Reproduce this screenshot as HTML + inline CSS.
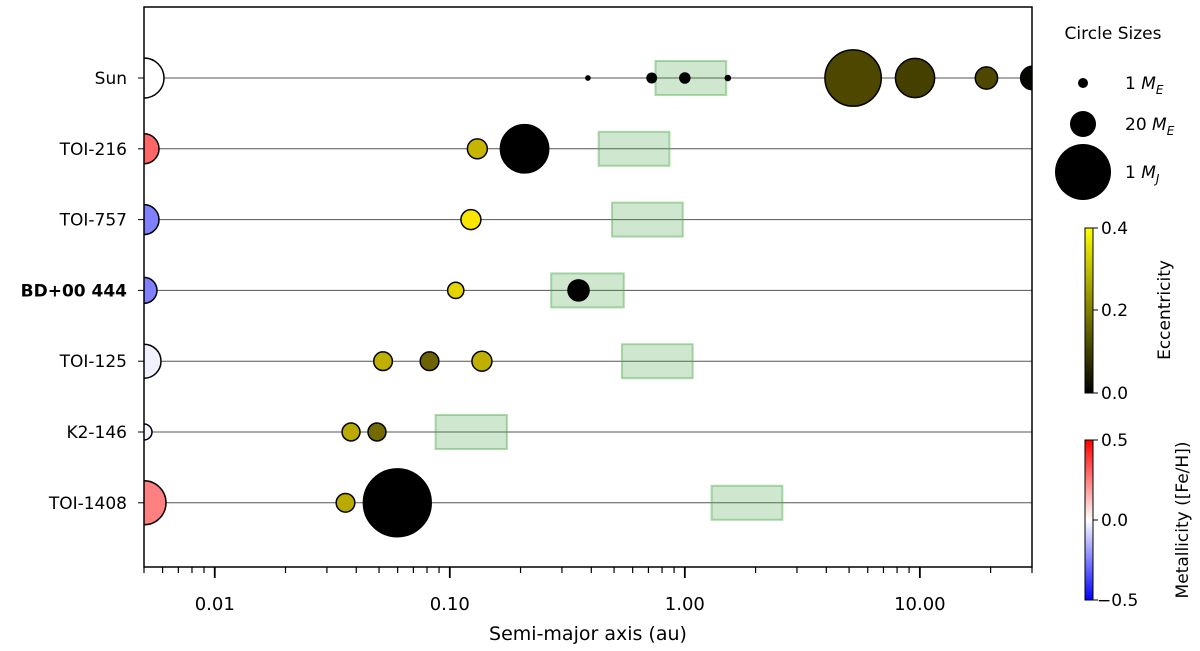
<!DOCTYPE html>
<html><head><meta charset="utf-8"><style>
body{margin:0;background:#fff;}
svg{display:block;font-family:"DejaVu Sans","Liberation Sans",sans-serif;}
</style></head><body>
<svg id="chart" width="1200" height="651" viewBox="0 0 1200 651">
<rect x="0" y="0" width="1200" height="651" fill="#fff"/>
<defs>
<clipPath id="pc"><rect x="144" y="7" width="888" height="560"/></clipPath>
<linearGradient id="eccg" x1="0" y1="1" x2="0" y2="0"><stop offset="0" stop-color="#000"/><stop offset="1" stop-color="#ff0"/></linearGradient>
<linearGradient id="metg" x1="0" y1="1" x2="0" y2="0"><stop offset="0" stop-color="#00f"/><stop offset="0.5" stop-color="#fff"/><stop offset="1" stop-color="#f00"/></linearGradient>
</defs>
<g id="plot" clip-path="url(#pc)"></g>
<g id="axes"></g>
<g id="legend">
<text x="1113" y="39" font-size="17" text-anchor="middle">Circle Sizes</text>
<circle cx="1083" cy="83" r="5" fill="#000"/>
<text x="1125" y="89" font-size="17">1 <tspan font-style="italic">M</tspan><tspan font-style="italic" font-size="12" dy="5">E</tspan></text>
<circle cx="1083" cy="124" r="13" fill="#000"/>
<text x="1125" y="130" font-size="17">20 <tspan font-style="italic">M</tspan><tspan font-style="italic" font-size="12" dy="5">E</tspan></text>
<circle cx="1083" cy="172" r="28" fill="#000"/>
<text x="1125" y="178" font-size="17">1 <tspan font-style="italic">M</tspan><tspan font-style="italic" font-size="12" dy="5">J</tspan></text>
</g>
<g>
<rect x="1085" y="228" width="8" height="165" fill="url(#eccg)" stroke="#000" stroke-width="1"/>
<g font-size="17">
<line x1="1093" y1="228" x2="1098" y2="228" stroke="#000"/><text x="1101" y="234">0.4</text>
<line x1="1093" y1="310" x2="1098" y2="310" stroke="#000"/><text x="1101" y="316">0.2</text>
<line x1="1093" y1="393" x2="1098" y2="393" stroke="#000"/><text x="1101" y="399">0.0</text>
<text transform="translate(1170,310) rotate(-90)" text-anchor="middle">Eccentricity</text>
</g></g>
<g>
<rect x="1085" y="440" width="8" height="160" fill="url(#metg)" stroke="#000" stroke-width="1"/>
<g font-size="17">
<line x1="1093" y1="440" x2="1098" y2="440" stroke="#000"/><text x="1101" y="446">0.5</text>
<line x1="1093" y1="520" x2="1098" y2="520" stroke="#000"/><text x="1101" y="526">0.0</text>
<line x1="1093" y1="600" x2="1098" y2="600" stroke="#000"/><text x="1097" y="606">−0.5</text>
<text transform="translate(1188,520) rotate(-90)" text-anchor="middle">Metallicity ([Fe/H])</text>
</g></g>
</svg>
<script>
const systems=["Sun","TOI-216","TOI-757","BD+00 444","TOI-125","K2-146","TOI-1408"];
const starFeH=[0.0,0.3,-0.25,-0.25,-0.03,-0.02,0.25];
const starRadius=[20,15,15,13,17,8,22];
const planetSystem=[0,0,0,0,0,0,0,0,1,1,2,3,3,4,4,4,5,5,6,6];
const planetA=[0.387,0.723,1.0,1.524,5.2,9.54,19.2,30.1,0.131,0.208,0.123,0.106,0.353,0.052,0.082,0.137,0.038,0.049,0.036,0.0598];
const planetMass=[0.055,0.815,1,0.107,318,95,14.5,17,10,190,10,5,12,8,8,10,7,7,8,590];
const planetEcc=[0.0,0.0,0.0,0.0,0.12,0.11,0.12,0.01,0.31,0.0,0.39,0.36,0.0,0.3,0.17,0.3,0.29,0.18,0.29,0.0];
const hzInner=[0.75,0.43,0.49,0.27,0.54,0.087,1.3];
const hzOuter=[1.5,0.86,0.98,0.55,1.08,0.175,2.6];
const xTicks=[0.01,0.1,1,10];
const xTickLabels=["0.01","0.10","1.00","10.00"];

const NS="http://www.w3.org/2000/svg";
const X0=144,X1=1032,Y0=7,Y1=567;
const lmin=Math.log10(0.005),lmax=Math.log10(30);
function xs(a){return X0+(Math.log10(a)-lmin)/(lmax-lmin)*(X1-X0);}
function ys(i){return 78+i*70.8;}
function rs(m){return 5*Math.pow(m,0.3);}
function eccColor(e){const t=Math.max(0,Math.min(1,e/0.4));const v=Math.round(255*t);return `rgb(${v},${Math.round(v*0.92)},0)`;}
function metColor(f){const t=Math.max(-1,Math.min(1,f/0.5));if(t>=0){const v=Math.round(255*(1-t));return `rgb(255,${v},${v})`;}const v=Math.round(255*(1+t));return `rgb(${v},${v},255)`;}
function mk(tag,attrs,parent){const e=document.createElementNS(NS,tag);for(const k in attrs)e.setAttribute(k,attrs[k]);parent.appendChild(e);return e;}
const plot=document.getElementById('plot'),axes=document.getElementById('axes');

systems.forEach((s,i)=>{
  const y=ys(i);
  const l=mk('line',{x1:X0,x2:X1,y1:y,y2:y,stroke:'#555','stroke-width':1},plot);
  
  
  const hz=mk('rect',{x:xs(hzInner[i]),y:y-17,width:xs(hzOuter[i])-xs(hzInner[i]),height:34,fill:'rgba(80,170,80,0.28)',stroke:'rgba(80,170,80,0.45)','stroke-width':2},plot);
  
  
});
systems.forEach((s,i)=>{
  const c=mk('circle',{cx:X0,cy:ys(i),r:starRadius[i],fill:metColor(starFeH[i]),stroke:'#000','stroke-width':1.5},plot);
  
  
});
planetA.forEach((a,j)=>{
  const c=mk('circle',{cx:xs(a),cy:ys(planetSystem[j]),r:rs(planetMass[j]),fill:eccColor(planetEcc[j]),stroke:'#000','stroke-width':1.5},plot);
  
  
});
const fr=mk('rect',{x:X0,y:Y0,width:X1-X0,height:Y1-Y0,fill:'none',stroke:'#000','stroke-width':1.5},axes);


systems.forEach((s,i)=>{
  mk('line',{x1:X0-6,x2:X0,y1:ys(i),y2:ys(i),stroke:'#000'},axes);
  const t=mk('text',{x:X0-17,y:ys(i)+6,'font-size':17,'text-anchor':'end','font-weight':s==='BD+00 444'?'bold':'normal'},axes);
  t.textContent=s;
  
  
});
for(let d=-3;d<=1;d++){for(let k=1;k<=9;k++){const v=k*Math.pow(10,d);if(v<0.005||v>30)continue;const x=xs(v);mk('line',{x1:x,x2:x,y1:Y1,y2:Y1+(k===1?11:6),stroke:'#000','stroke-width':k===1?1.8:1.2},axes);}}
xTicks.forEach((v,i)=>{
  const t=mk('text',{x:xs(v),y:Y1+43,'font-size':18,'text-anchor':'middle'},axes);
  t.textContent=xTickLabels[i];
  
  
});
const xt=mk('text',{x:(X0+X1)/2,y:Y1+73,'font-size':19,'text-anchor':'middle'},axes);
xt.textContent='Semi-major axis (au)';


</script>
</body></html>
